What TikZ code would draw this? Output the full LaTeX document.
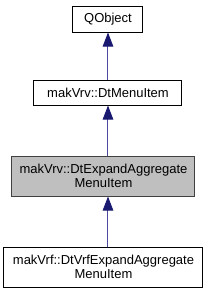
\documentclass[tikz,border=0pt]{standalone}
\usepackage{fontspec}
\setmainfont{Liberation Sans}
\usetikzlibrary{arrows.meta}
\definecolor{edgeblue}{HTML}{191970}
\definecolor{edgeline}{HTML}{4A4AA0}
\definecolor{nodegray}{HTML}{BFBFBF}
\definecolor{graybord}{HTML}{404040}
\tikzset{
  cls/.style={draw=black, line width=1pt, fill=white, rectangle, inner sep=0pt,
    align=center, font=\fontsize{13}{14.5}\selectfont},
  clsgray/.style={cls, draw=graybord, fill=nodegray},
  inh/.style={draw=edgeline, line width=1pt,
    -{Triangle[length=14pt,width=10.5pt,color=edgeblue,fill=edgeblue]}}
}
\begin{document}
\begin{tikzpicture}[x=1pt,y=-1pt]
\useasboundingbox (0,0) rectangle (216,293);
\node[cls, minimum width=70pt, minimum height=26pt] (qo) at (108,19) {QObject};
\node[cls, minimum width=148pt, minimum height=25pt] (dm) at (108,92.5) {makVrv::DtMenuItem};
\node[clsgray, minimum width=183pt, minimum height=40pt] (de) at (103.5,176) {makVrv::DtExpandAggregate\\MenuItem};
\node[cls, minimum width=199pt, minimum height=40pt] (dv) at (103.5,267) {makVrf::DtVrfExpandAggregate\\MenuItem};
\draw[inh] (dm.north) -- (qo.south);
\draw[inh] (de.north -| dm.south) -- (dm.south);
\draw[inh] (dv.north -| dm.south) -- (de.south -| dm.south);
\end{tikzpicture}
\end{document}
